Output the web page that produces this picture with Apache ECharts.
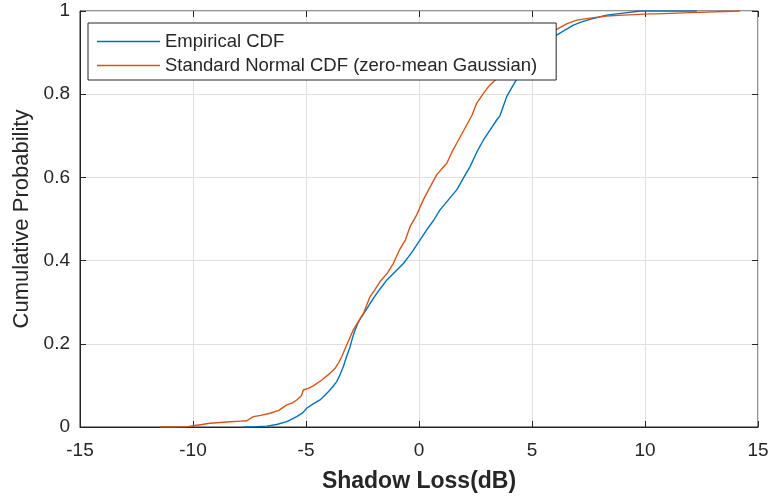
<!DOCTYPE html>
<html>
<head>
<meta charset="utf-8">
<script src="https://cdn.jsdelivr.net/npm/echarts@6/dist/echarts.min.js"></script>
<style>
  html, body { margin: 0; padding: 0; background: #fff; }
  #chart { width: 772px; height: 500px; }
</style>
</head>
<body>
<div id="chart"></div>
<script>
// Shadow loss samples: empirical CDF vs. zero-mean Gaussian CDF
const empiricalX = [-7.77, -7.2, -6.74, -6.3, -5.85, -5.41, -5.15, -4.97, -4.7, -4.38,
  -4.15, -3.94, -3.8, -3.64, -3.5, -3.35, -3.2, -3.05, -2.95, -2.83,
  -2.7, -2.54, -2.3, -2.02, -1.75, -1.43, -1.1, -0.69, -0.45, -0.25,
  0.05, 0.34, 0.65, 0.93, 1.3, 1.67, 1.95, 2.26, 2.55, 2.85,
  3.15, 3.44, 3.58, 3.88, 4.15, 4.39, 4.7, 5.0, 5.5, 6.09,
  6.4, 6.83, 7.2, 7.57, 8.0, 8.3, 9.04, 9.8, 11.0, 12.3];
const empiricalY = [0, 0.001, 0.002, 0.006, 0.013, 0.025, 0.034, 0.045, 0.055, 0.065,
  0.077, 0.089, 0.098, 0.109, 0.125, 0.145, 0.17, 0.193, 0.213, 0.233,
  0.25, 0.265, 0.285, 0.309, 0.33, 0.353, 0.371, 0.393, 0.41, 0.425,
  0.45, 0.474, 0.497, 0.522, 0.546, 0.57, 0.597, 0.626, 0.66, 0.69,
  0.714, 0.738, 0.748, 0.794, 0.82, 0.842, 0.865, 0.885, 0.915, 0.942,
  0.952, 0.966, 0.974, 0.98, 0.986, 0.99, 0.995, 1.0, 1.0, 1.0];

const normalX = [-11.46, -10.8, -10.2, -9.99, -9.6, -9.25, -8.5, -7.9, -7.62, -7.33,
  -7.0, -6.59, -6.2, -5.85, -5.6, -5.41, -5.2, -5.12, -4.9, -4.68,
  -4.3, -3.94, -3.7, -3.55, -3.42, -3.2, -2.91, -2.7, -2.46, -2.17,
  -1.95, -1.73, -1.4, -1.14, -0.87, -0.6, -0.4, -0.1, 0.19, 0.5,
  0.78, 1.0, 1.23, 1.45, 1.67, 1.9, 2.11, 2.35, 2.55, 2.85,
  3.1, 3.44, 4.0, 4.5, 5.0, 5.5, 6.09, 6.53, 6.98, 7.57,
  8.3, 9.04, 10.2, 10.5, 12.0, 14.2];
const normalY = [0, 0, 0.001, 0.003, 0.006, 0.009, 0.012, 0.014, 0.015, 0.025,
  0.028, 0.033, 0.04, 0.053, 0.058, 0.065, 0.075, 0.089, 0.093, 0.099,
  0.113, 0.129, 0.142, 0.155, 0.169, 0.197, 0.233, 0.252, 0.273, 0.313,
  0.33, 0.349, 0.37, 0.393, 0.425, 0.45, 0.481, 0.51, 0.546, 0.578,
  0.606, 0.62, 0.634, 0.66, 0.682, 0.705, 0.726, 0.75, 0.778, 0.802,
  0.82, 0.838, 0.87, 0.9, 0.925, 0.94, 0.956, 0.969, 0.978, 0.983,
  0.988, 0.99, 0.993, 0.993, 0.996, 1.0];

const seriesNames = ['Empirical CDF', 'Standard Normal CDF (zero-mean Gaussian)'];
const xTicks = { min: -15, max: 15, step: 5 };
const yTicks = { min: 0, max: 1, step: 0.2 };

const FONT = '"Liberation Sans", Arial, Helvetica, sans-serif';
const INK = '#262626';
const GRID = '#dfdfdf';

const zip = (xs, ys) => xs.map((x, i) => [x, ys[i]]);

const chart = echarts.init(document.getElementById('chart'), null, { renderer: 'canvas' });

// Mirror axes on the top and right that only carry inward ticks (box-style frame)
const tickOnly = {
  show: true,
  axisLine: { show: false, onZero: false },
  axisLabel: { show: false },
  splitLine: { show: false },
  axisTick: { show: true, inside: true, length: 6, lineStyle: { color: INK, width: 1 } }
};

chart.setOption({
  animation: false,
  backgroundColor: '#fff',
  grid: {
    left: 80, right: 14, top: 11, bottom: 73,
    show: true, borderColor: INK, borderWidth: 1, backgroundColor: '#fff'
  },
  legend: {
    orient: 'vertical',
    left: 88, top: 23,
    padding: [9, 19, 5, 9],
    itemGap: 5,
    icon: 'rect',
    itemWidth: 63, itemHeight: 1.5,
    backgroundColor: '#fff',
    borderColor: INK, borderWidth: 1, borderRadius: 0,
    textStyle: { fontFamily: FONT, fontSize: 18.5, color: INK },
    data: seriesNames
  },
  xAxis: [{
    type: 'value', position: 'bottom',
    min: xTicks.min, max: xTicks.max, interval: xTicks.step,
    name: 'Shadow Loss(dB)', nameLocation: 'middle', nameGap: 43,
    nameTextStyle: { fontFamily: FONT, fontSize: 23, fontWeight: 'bold', color: INK },
    axisLine: { show: true, onZero: false, lineStyle: { color: INK, width: 1 } },
    axisTick: { show: true, inside: true, length: 6, lineStyle: { color: INK } },
    axisLabel: { fontFamily: FONT, fontSize: 19, color: INK, margin: 14 },
    splitLine: { show: true, lineStyle: { color: GRID, width: 1 } }
  }, Object.assign({
    type: 'value', position: 'top',
    min: xTicks.min, max: xTicks.max, interval: xTicks.step
  }, tickOnly)],
  yAxis: [{
    type: 'value', position: 'left',
    min: yTicks.min, max: yTicks.max, interval: yTicks.step,
    name: 'Cumulative Probability', nameLocation: 'middle', nameGap: 45,
    nameTextStyle: { fontFamily: FONT, fontSize: 22, color: INK },
    axisLine: { show: true, onZero: false, lineStyle: { color: INK, width: 1 } },
    axisTick: { show: true, inside: true, length: 6, lineStyle: { color: INK } },
    axisLabel: {
      fontFamily: FONT, fontSize: 19, color: INK, margin: 10,
      formatter: v => (Math.abs(v - 1) < 1e-9 ? '1' : (Math.abs(v) < 1e-9 ? '0' : String(+v.toFixed(1))))
    },
    splitLine: { show: true, lineStyle: { color: GRID, width: 1 } }
  }, Object.assign({
    type: 'value', position: 'right',
    min: yTicks.min, max: yTicks.max, interval: yTicks.step
  }, tickOnly)],
  series: [{
    name: seriesNames[0],
    type: 'line',
    data: zip(empiricalX, empiricalY),
    symbol: 'none', showSymbol: false,
    lineStyle: { color: '#0072BD', width: 1.4 },
    itemStyle: { color: '#0072BD' },
    z: 3
  }, {
    name: seriesNames[1],
    type: 'line',
    data: zip(normalX, normalY),
    symbol: 'none', showSymbol: false,
    lineStyle: { color: '#D95319', width: 1.4 },
    itemStyle: { color: '#D95319' },
    z: 3
  }]
});
</script>
</body>
</html>
